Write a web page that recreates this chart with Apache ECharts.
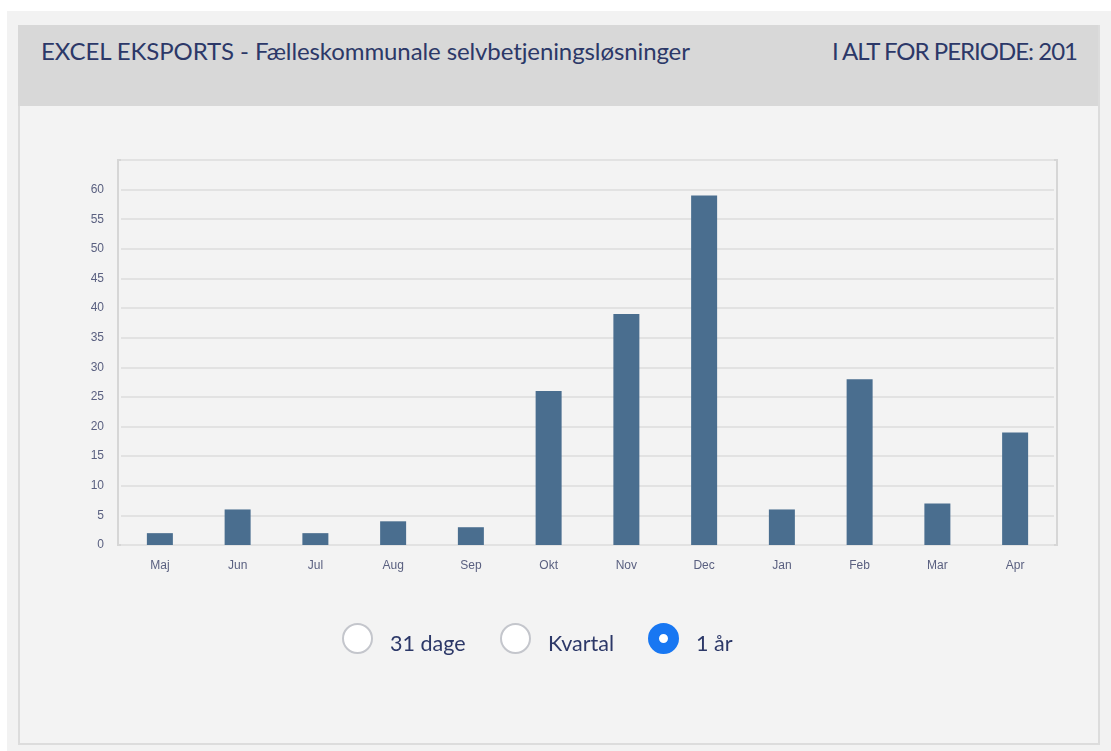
<!DOCTYPE html>
<html>
<head>
<meta charset="utf-8">
<script src="https://cdn.jsdelivr.net/npm/echarts@6/dist/echarts.min.js"></script>
<style>
  html, body { margin: 0; padding: 0; background: #fff; width: 1111px; height: 751px; overflow: hidden; }
  .outer { position: absolute; left: 7px; top: 11px; width: 1104px; height: 740px; background: #f2f2f2; }
  .panel { position: absolute; left: 18px; top: 25px; width: 1078px; height: 716px; border: 2px solid #dcdcdc; background: #f3f3f3; }
  .header { position: absolute; left: 18px; top: 25px; width: 1080px; height: 81px; background: #d8d8d8; }
  .title { position: absolute; top: 36px; font-family: Lato, sans-serif; font-size: 24px; color: #2c3868; letter-spacing: -0.1px; }
  #chart { position: absolute; left: 0; top: 0; width: 1111px; height: 751px; }
  .radios { position: absolute; top: 623px; left: 342px; font-family: Lato, sans-serif; font-size: 21.5px; color: #2c3868; }
  .radio { position: absolute; top: 0; white-space: nowrap; }
  .dot { position: absolute; top: 0; width: 31px; height: 31px; border-radius: 50%; border: 2px solid #c4c6cc; background: #fff; box-sizing: border-box; }
  .dot.on { border: 11px solid #1877f2; }
  .lbl { position: absolute; left: 48px; top: 7px; }
</style>
</head>
<body>
<div class="outer"></div>
<div class="panel"></div>
<div class="header"></div>
<div class="title" style="left:41px">EXCEL EKSPORTS - Fælleskommunale selvbetjeningsløsninger</div>
<div class="title" style="right:34px; letter-spacing:-1px">I ALT FOR PERIODE: 201</div>
<div id="chart"></div>
<div class="radios">
  <div class="radio" style="left:0"><span class="dot"></span><span class="lbl">31 dage</span></div>
  <div class="radio" style="left:158px"><span class="dot"></span><span class="lbl">Kvartal</span></div>
  <div class="radio" style="left:306px"><span class="dot on"></span><span class="lbl">1 år</span></div>
</div>
<script>
const months = ['Maj', 'Jun', 'Jul', 'Aug', 'Sep', 'Okt', 'Nov', 'Dec', 'Jan', 'Feb', 'Mar', 'Apr'];
const counts = [2, 6, 2, 4, 3, 26, 39, 59, 6, 28, 7, 19];

const chart = echarts.init(document.getElementById('chart'));
chart.setOption({
  animation: false,
  // frame of the plot area sits a little outside the category band
  graphic: [{
    type: 'rect',
    shape: { x: 118, y: 160, width: 939, height: 385 },
    style: { fill: 'transparent', stroke: '#d6d6d6', lineWidth: 2 },
    z: 0
  }],
  grid: { left: 121, top: 160, right: 57, bottom: 206 },
  xAxis: {
    type: 'category',
    data: months,
    axisLine: { show: false },
    axisTick: { show: false },
    axisLabel: { color: '#5a6080', fontSize: 12, fontFamily: 'Liberation Sans, Arial', margin: 15 }
  },
  yAxis: {
    type: 'value',
    min: 0, max: 65, interval: 5,
    axisLine: { show: false },
    axisTick: { show: false },
    axisLabel: { color: '#5a6080', fontSize: 12, fontFamily: 'Liberation Sans, Arial', margin: 17, showMaxLabel: false },
    splitLine: { lineStyle: { color: '#e2e2e2', width: 2 } }
  },
  series: [{
    type: 'bar',
    data: counts,
    barWidth: 26,
    itemStyle: { color: '#4a6e8f' },
    z: 2
  }]
});
</script>
</body>
</html>
